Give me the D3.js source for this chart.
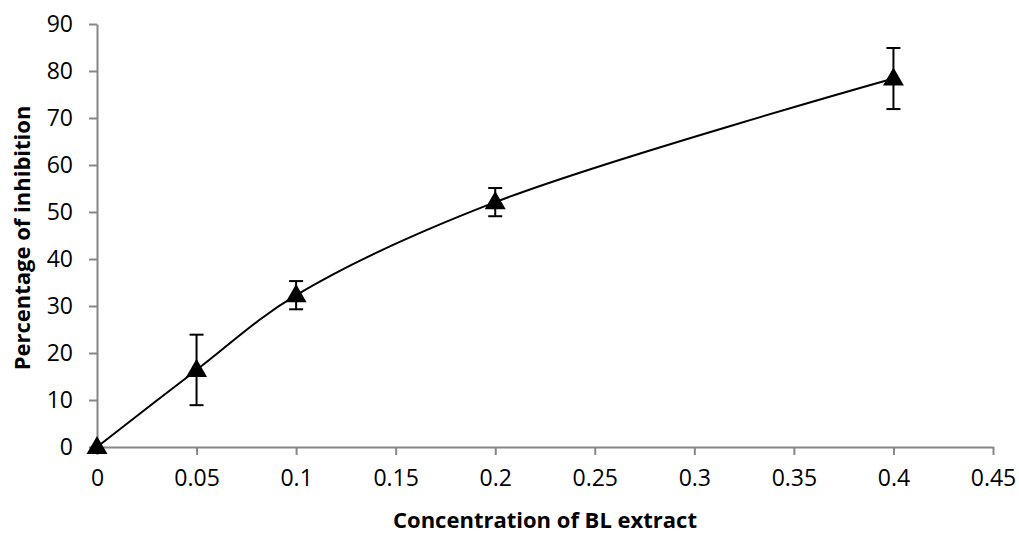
<!DOCTYPE html>
<html>
<head>
<meta charset="utf-8">
<style>
  body { margin: 0; background: #fff; }
  svg { display: block; font-family: 'Open Sans', sans-serif; }
  .tick text { font-family: 'Open Sans', sans-serif; font-size: 23px; fill: #000; }
  .axis path, .axis line { stroke: #868686; stroke-width: 2; }
  .title { font-size: 22px; font-weight: bold; fill: #000; }
</style>
</head>
<body>
<div id="chart"></div>
<script src="https://cdnjs.cloudflare.com/ajax/libs/d3/7.8.5/d3.min.js"></script>
<script>
// data
const concentration = [0, 0.05, 0.1, 0.2, 0.4];
const inhibition = [0, 16.4, 32.3, 52.1, 78.4];
const errors = [0, 7.5, 3, 3, 6.5];
const xTicks = [0, 0.05, 0.1, 0.15, 0.2, 0.25, 0.3, 0.35, 0.4, 0.45];
const yTicks = [0, 10, 20, 30, 40, 50, 60, 70, 80, 90];

const width = 1019, height = 534;
const margin = { top: 24, right: 26, bottom: 87, left: 97 };

const svg = d3.select("#chart")
  .append("svg")
  .attr("width", width)
  .attr("height", height);

const x = d3.scaleLinear().domain([0, 0.45]).range([margin.left, width - margin.right]);
const y = d3.scaleLinear().domain([0, 90]).range([height - margin.bottom, margin.top]);

// axes
svg.append("g")
  .attr("class", "axis")
  .attr("transform", `translate(0,${y(0)})`)
  .call(d3.axisBottom(x).tickValues(xTicks).tickFormat(d => d3.format("")(+d.toFixed(2))).tickSize(8).tickSizeOuter(0).tickPadding(15));

svg.append("g")
  .attr("class", "axis")
  .attr("transform", `translate(${x(0)},0)`)
  .call(d3.axisLeft(y).tickValues(yTicks).tickSize(8).tickSizeOuter(0).tickPadding(16));

// smoothed line
const pts = concentration.map((c, i) => [c, inhibition[i]]);
const line = d3.line()
  .x(d => x(d[0]))
  .y(d => y(d[1]))
  .curve(d3.curveCatmullRom.alpha(0.5));

svg.append("path")
  .datum(pts)
  .attr("d", line)
  .attr("fill", "none")
  .attr("stroke", "#000")
  .attr("stroke-width", 2);

// error bars
const eb = svg.append("g").attr("stroke", "#000").attr("stroke-width", 2);
concentration.forEach((c, i) => {
  if (!errors[i]) return;
  const cx = x(c), top = y(inhibition[i] + errors[i]), bot = y(inhibition[i] - errors[i]);
  eb.append("line").attr("x1", cx).attr("x2", cx).attr("y1", top).attr("y2", bot);
  eb.append("line").attr("x1", cx - 7).attr("x2", cx + 7).attr("y1", top).attr("y2", top);
  eb.append("line").attr("x1", cx - 7).attr("x2", cx + 7).attr("y1", bot).attr("y2", bot);
});

// triangle markers
const tri = d3.symbol().type(d3.symbolTriangle).size(190);
svg.append("g")
  .selectAll("path")
  .data(pts)
  .join("path")
  .attr("d", tri)
  .attr("transform", d => `translate(${x(d[0])},${y(d[1]) + 1})`)
  .attr("fill", "#000");

// axis titles
svg.append("text")
  .attr("class", "title")
  .attr("x", 545)
  .attr("y", 528)
  .attr("text-anchor", "middle")
  .text("Concentration of BL extract");

svg.append("text")
  .attr("class", "title")
  .attr("transform", "translate(30,238) rotate(-90)")
  .attr("text-anchor", "middle")
  .text("Percentage of inhibition");
</script>
</body>
</html>
